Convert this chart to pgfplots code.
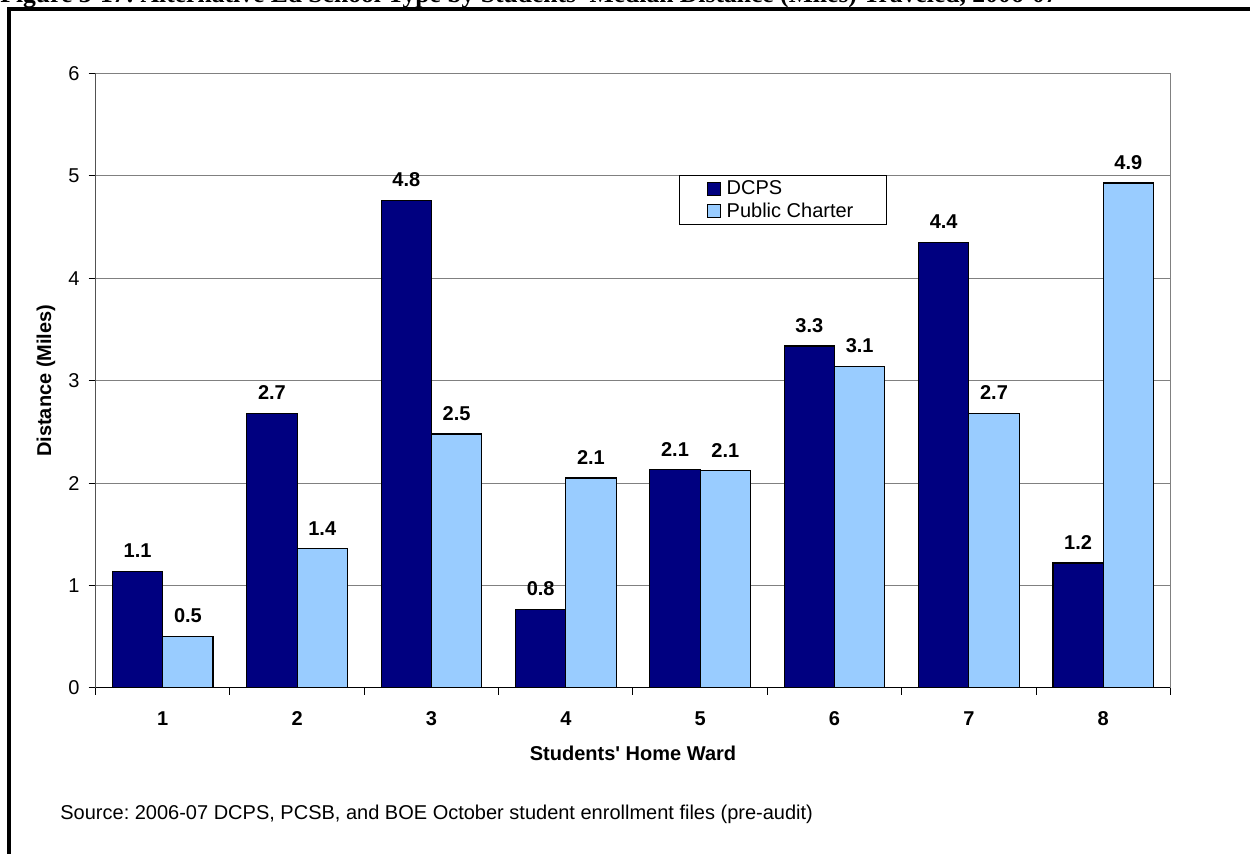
\documentclass[border=0pt]{standalone}
\usepackage{fontspec}
\setmainfont{Liberation Sans}
\newfontfamily\timesfont{Liberation Serif}
\usepackage{pgfplots}
\pgfplotsset{compat=1.18}
\usepackage{pgfplotstable}
\definecolor{dcps}{HTML}{000080}
\definecolor{pcs}{HTML}{99CCFF}
\definecolor{gridc}{HTML}{808080}
\pgfplotsset{sqlegend/.style={legend image code/.code={\draw[##1, draw=black, line width=0.5pt] (0pt,-3.25pt) rectangle (6.5pt,3.25pt);}}}
\frenchspacing

\pgfplotstableread{
x dcps dl pc pl
1 1.14 1.1 0.50 0.5
2 2.68 2.7 1.36 1.4
3 4.76 4.8 2.48 2.5
4 0.77 0.8 2.05 2.1
5 2.13 2.1 2.12 2.1
6 3.34 3.3 3.14 3.1
7 4.35 4.4 2.68 2.7
8 1.22 1.2 4.93 4.9
}\data

\begin{document}
\begin{tikzpicture}[x=1pt,y=1pt]
\useasboundingbox (0,0) rectangle (625,427);
\clip (0,0) rectangle (625,427);
\node[anchor=base west, inner sep=0pt, font=\timesfont\bfseries\fontsize{12.8}{14}\selectfont] at (0,425.75) {Figure 3-17: Alternative Ed School Type by Students\textquotesingle\ Median Distance (Miles) Traveled, 2006-07};
\draw[line width=1.7pt] (4.5,-10) -- (4.5,422.5) -- (640,422.5);
\node[anchor=base west, inner sep=0pt, font=\fontsize{10}{12}\selectfont] at (30,17) {\frenchspacing Source: 2006-07 DCPS, PCSB, and BOE October student enrollment files (pre-audit)};
\begin{axis}[
  at={(47.8pt,83pt)}, anchor=south west,
  width=537.4pt, height=307.25pt, scale only axis,
  xmin=0.5, xmax=8.5, ymin=0, ymax=6,
  ybar,
  font=\fontsize{10}{12}\selectfont,
  axis line style={draw=gridc, line width=0.5pt},
  ymajorgrids, major grid style={draw=gridc, line width=0.5pt},
  tick align=outside, major tick length=3.5pt,
  tick style={draw=black, line width=0.5pt},
  ytick={0,1,...,6}, ytick pos=left, xtick pos=bottom,
  yticklabel style={anchor=east, inner sep=0pt, xshift=-4.3pt},
  /pgf/number format/assume math mode=true,
  xtick={0.5,1.5,...,8.5}, xticklabels={},
  extra x ticks={1,2,...,8},
  extra x tick labels={1,2,3,4,5,6,7,8},
  extra x tick style={tick style={draw=none},
     tick label style={font=\fontsize{10}{12}\selectfont\bfseries, anchor=north, inner sep=0pt, yshift=-8pt}},
  xlabel={Students\textquotesingle\ Home Ward},
  xlabel style={font=\fontsize{10}{12}\selectfont\bfseries, at={(axis description cs:0.5,-0.106)}, anchor=center},
  ylabel={Distance (Miles)},
  ylabel style={font=\fontsize{10}{12}\selectfont\bfseries, at={(axis description cs:-0.0461,0.5)}, anchor=center},
  nodes near coords,
  point meta=explicit symbolic,
  nodes near coords style={font=\fontsize{10}{12}\selectfont\bfseries, anchor=south, inner sep=0pt, yshift=6.5pt},
  legend style={at={(axis description cs:0.543,0.835)}, anchor=north west,
     draw=black, line width=0.5pt, fill=white, inner xsep=13.5pt, inner ysep=1pt,
     font=\fontsize{10}{12}\selectfont,
     nodes={inner xsep=3pt, inner ysep=1pt, text height=7.5pt, text depth=1.85pt}},
  legend cell align=left,
]
\addplot[fill=dcps, draw=black, line width=0.6pt, bar width=25.15pt, bar shift=-12.575pt, sqlegend]
  table[x=x, y=dcps, meta=dl] {\data};
\addlegendentry{DCPS}
\addplot[fill=pcs, draw=black, line width=0.6pt, bar width=25.15pt, bar shift=12.575pt, sqlegend]
  table[x=x, y=pc, meta=pl] {\data};
\addlegendentry{Public Charter}
\draw[black, line width=0.5pt] (rel axis cs:0,1) -- (rel axis cs:0,0) -- (rel axis cs:1,0);
\end{axis}
\end{tikzpicture}
\end{document}
